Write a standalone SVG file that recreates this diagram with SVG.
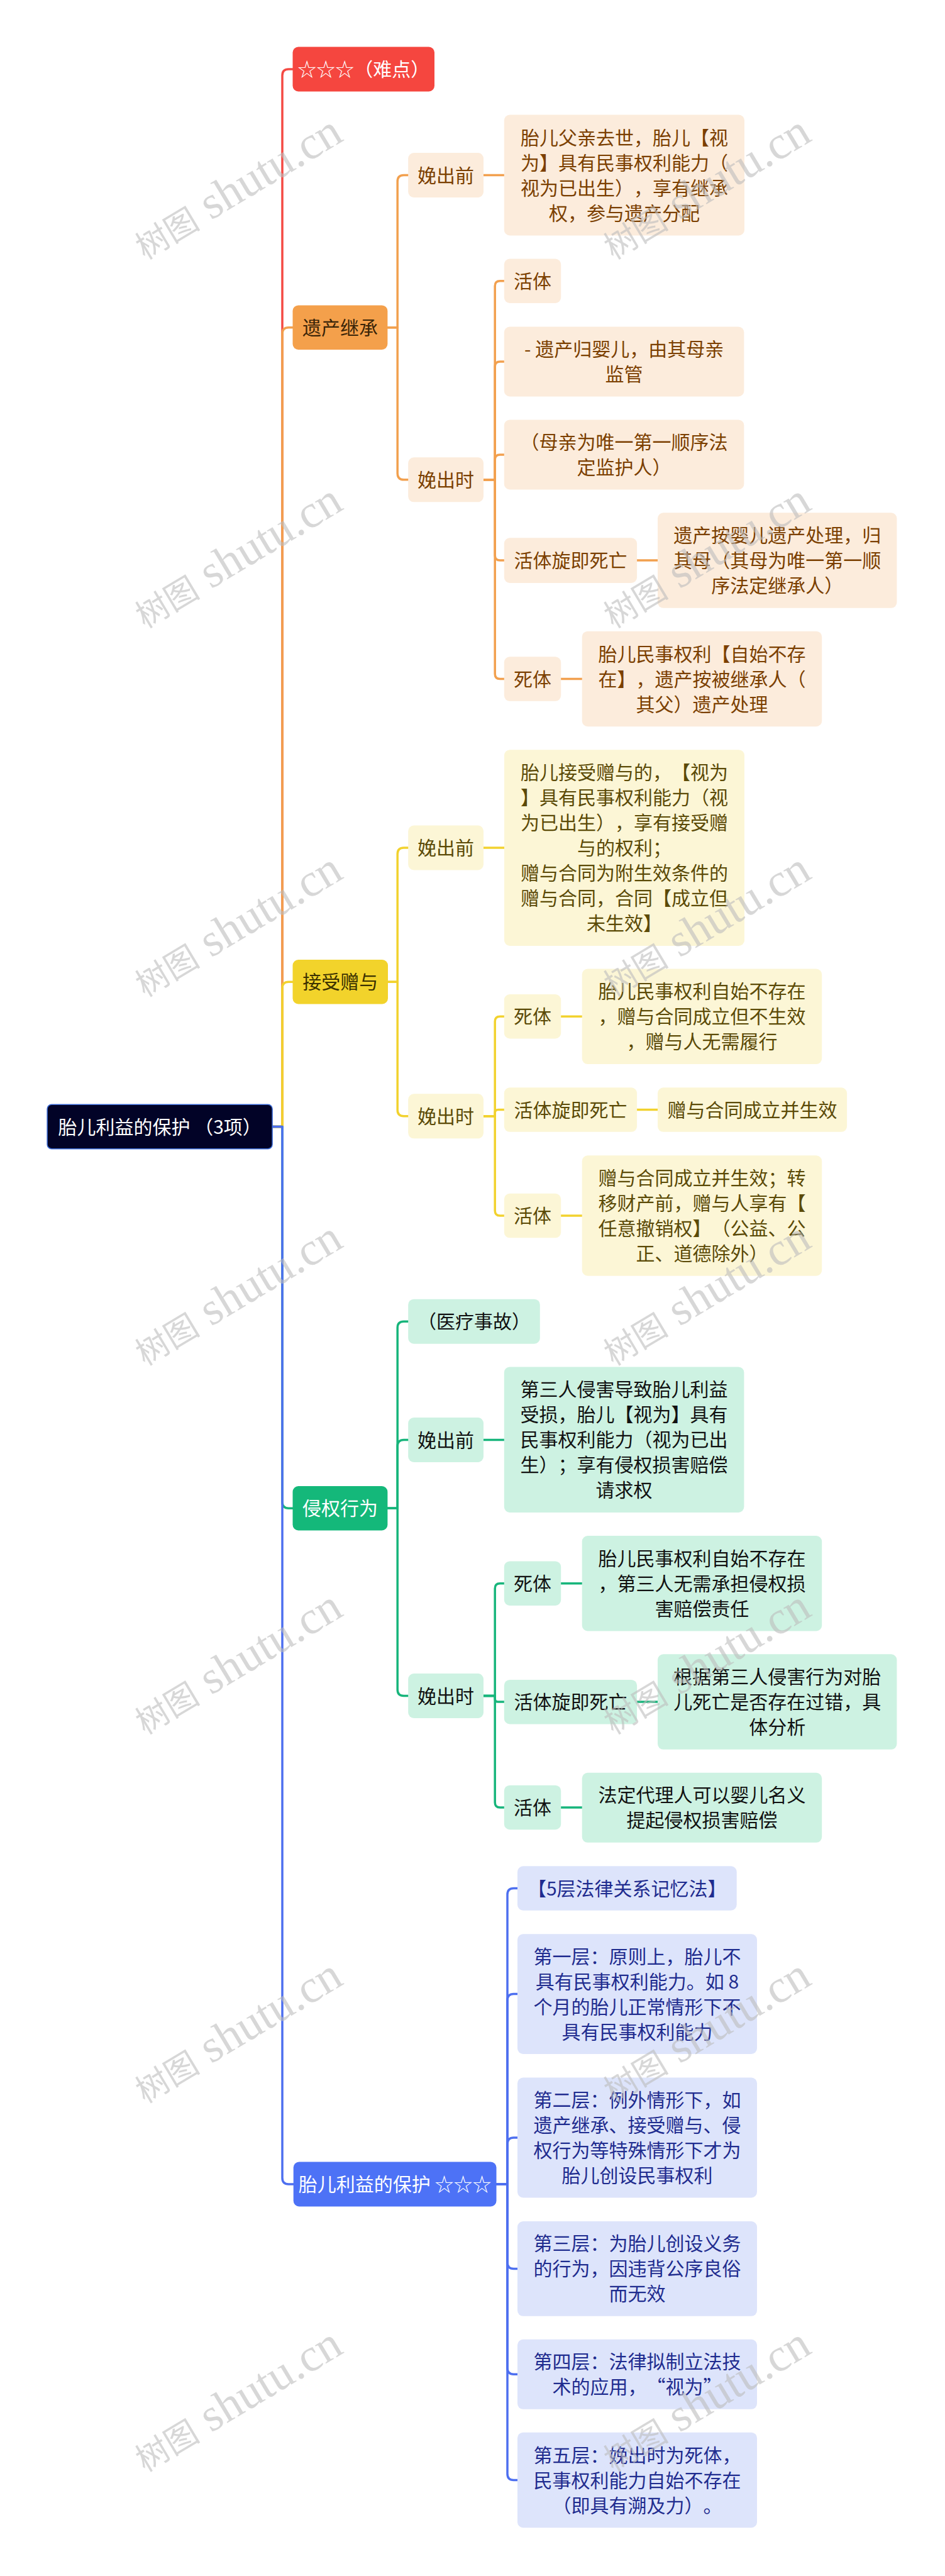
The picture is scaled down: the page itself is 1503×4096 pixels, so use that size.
<svg xmlns="http://www.w3.org/2000/svg" width="1503" height="4096" viewBox="0 0 1503 4096">
<style>
.t{font-family:"Noto Sans CJK SC","Noto Sans",sans-serif;font-size:30px;text-anchor:middle;text-spacing-trim:space-all}
.c{fill:none;stroke-width:3.5;stroke-linecap:round;stroke-linejoin:round}
.cr{stroke:#F44A43}.co{stroke:#F2A04E}.cy{stroke:#F2D22E}.cg{stroke:#17B57B}.cb{stroke:#4D6FF0}
.so{fill:#FCECDC}.to{fill:#7B3F00}
.sy{fill:#FCF6D6}.ty{fill:#5B4A07}
.sg{fill:#CDF2E2}.tg{fill:#111111}
.sb{fill:#DDE4FB}.tb{fill:#1F2C8F}
.wm{font-family:"Liberation Serif","Noto Sans CJK SC",serif;font-size:74px;fill:#bdbdbd;fill-opacity:0.6}
.wmc{font-family:"Noto Sans CJK SC",sans-serif;font-size:52px}
</style>
<rect width="1503" height="4096" fill="#ffffff"/>
<g id="connectors">
<path class="c cr" d="M433.1 1791.5H449V120Q449 110 459 110H465.5"/>
<path class="c co" d="M433.1 1791.5H449V530.7Q449 520.7 459 520.7H465.5"/>
<path class="c cy" d="M433.1 1791.5H449V1571.3Q449 1561.3 459 1561.3H465.5"/>
<path class="c cg" d="M433.1 1791.5H449V2388.3Q449 2398.3 459 2398.3H465.5"/>
<path class="c cb" d="M433.1 1791.5H449V3463Q449 3473 459 3473H466.7"/>
<path class="c co" d="M616.4 520.7H632.2V288.5Q632.2 278.5 642.2 278.5H649.2"/>
<path class="c co" d="M616.4 520.7H632.2V752.8Q632.2 762.8 642.2 762.8H649.2"/>
<path class="c co" d="M769 278.5H801.8"/>
<path class="c co" d="M769 762.8H787.2V454.7Q787.2 446.7 795.2 446.7H801.8"/>
<path class="c co" d="M769 762.8H787.2V583Q787.2 575 795.2 575H801.8"/>
<path class="c co" d="M769 762.8H787.2V730.9Q787.2 722.9 795.2 722.9H801.8"/>
<path class="c co" d="M769 762.8H787.2V883Q787.2 891 795.2 891H801.8"/>
<path class="c co" d="M769 762.8H787.2V1071.5Q787.2 1079.5 795.2 1079.5H801.8"/>
<path class="c co" d="M1013.1 891H1046"/>
<path class="c co" d="M892.2 1079.5H925.7"/>
<path class="c cy" d="M617 1561.3H632.2V1358Q632.2 1348 642.2 1348H649.2"/>
<path class="c cy" d="M617 1561.3H632.2V1764.8Q632.2 1774.8 642.2 1774.8H649.2"/>
<path class="c cy" d="M769 1348H802"/>
<path class="c cy" d="M769 1774.8H787.2V1624.3Q787.2 1616.3 795.2 1616.3H801.8"/>
<path class="c cy" d="M769 1774.8H787.2V1769.7Q787.2 1764.6 792.3 1764.6H801.8"/>
<path class="c cy" d="M769 1774.8H787.2V1925Q787.2 1933 795.2 1933H801.8"/>
<path class="c cy" d="M892.2 1616.3H925.7"/>
<path class="c cy" d="M1013.1 1764.6H1046"/>
<path class="c cy" d="M892.2 1933H925.7"/>
<path class="c cg" d="M616.4 2398.3H632.2V2111.2Q632.2 2101.2 642.2 2101.2H649.2"/>
<path class="c cg" d="M616.4 2398.3H632.2V2299.5Q632.2 2289.5 642.2 2289.5H649.2"/>
<path class="c cg" d="M616.4 2398.3H632.2V2686.5Q632.2 2696.5 642.2 2696.5H649.2"/>
<path class="c cg" d="M769 2289.5H801.8"/>
<path class="c cg" d="M769 2696.5H787.2V2525.7Q787.2 2517.7 795.2 2517.7H801.8"/>
<path class="c cg" d="M769 2696.5H787.2V2701.3Q787.2 2706.1 792 2706.1H801.8"/>
<path class="c cg" d="M769 2696.5H787.2V2866Q787.2 2874 795.2 2874H801.8"/>
<path class="c cg" d="M892.2 2517.7H925.7"/>
<path class="c cg" d="M1013.1 2706.1H1046"/>
<path class="c cg" d="M892.2 2874H925.7"/>
<path class="c cb" d="M789.5 3473H807V3012.5Q807 3002.5 817 3002.5H823"/>
<path class="c cb" d="M789.5 3473H807V3180.6Q807 3170.6 817 3170.6H823"/>
<path class="c cb" d="M789.5 3473H807V3409Q807 3399 817 3399H823"/>
<path class="c cb" d="M789.5 3473H807V3597.4Q807 3607.4 817 3607.4H823"/>
<path class="c cb" d="M789.5 3473H807V3765.3Q807 3775.3 817 3775.3H823"/>
<path class="c cb" d="M789.5 3473H807V3933.5Q807 3943.5 817 3943.5H823"/>
</g>
<g id="root"><rect x="75.1" y="1756.3" width="358" height="70.4" rx="7" fill="#020327" stroke="#3C6BD6" stroke-width="1.5"/><text class="t" x="254.1" y="1802.5" fill="#ffffff">胎儿利益的保护 （3项）</text></g>
<g id="n-nandian"><rect x="465.5" y="74.5" width="225.5" height="71" rx="9" fill="#F5463F"/><text class="t" x="578.3" y="121" fill="#ffffff">☆☆☆（难点）</text></g>
<g id="n-yichan"><rect x="465.5" y="485.4" width="150.9" height="70.5" rx="9" fill="#F4A04B"/><text class="t" x="541" y="531.7" fill="#3A2408">遗产继承</text></g>
<g id="n-yc-qian"><rect class="so" x="649.2" y="243" width="119.8" height="71" rx="9"/><text class="t to" x="709.1" y="289.5">娩出前</text></g>
<g id="n-yc-qian-1"><rect class="so" x="801.8" y="182.6" width="382.2" height="191.9" rx="9"/><text class="t to"><tspan x="992.9" y="229.5">胎儿父亲去世，胎儿【视</tspan><tspan x="992.9" y="269.5">为】具有民事权利能力（</tspan><tspan x="992.9" y="309.5">视为已出生），享有继承</tspan><tspan x="992.9" y="349.5">权，参与遗产分配</tspan></text></g>
<g id="n-yc-shi"><rect class="so" x="649.2" y="727.3" width="119.8" height="71" rx="9"/><text class="t to" x="709.1" y="773.8">娩出时</text></g>
<g id="n-yc-huoti"><rect class="so" x="801.8" y="411.5" width="90.4" height="70.5" rx="9"/><text class="t to" x="847" y="457.7">活体</text></g>
<g id="n-yc-gui"><rect class="so" x="801.8" y="519.5" width="381.6" height="111" rx="9"/><text class="t to"><tspan x="992.6" y="566">- 遗产归婴儿，由其母亲</tspan><tspan x="992.6" y="606">监管</tspan></text></g>
<g id="n-yc-muqin"><rect class="so" x="801.8" y="667.4" width="381.6" height="111" rx="9"/><text class="t to"><tspan x="992.6" y="713.9">（母亲为唯一第一顺序法</tspan><tspan x="992.6" y="753.9">定监护人）</tspan></text></g>
<g id="n-yc-xuanji"><rect class="so" x="801.8" y="855.3" width="211.3" height="71.6" rx="9"/><text class="t to" x="907.4" y="902">活体旋即死亡</text></g>
<g id="n-yc-xuanji-1"><rect class="so" x="1046" y="815.3" width="380.4" height="151.5" rx="9"/><text class="t to"><tspan x="1236.2" y="862">遗产按婴儿遗产处理，归</tspan><tspan x="1236.2" y="902">其母（其母为唯一第一顺</tspan><tspan x="1236.2" y="942">序法定继承人）</tspan></text></g>
<g id="n-yc-siti"><rect class="so" x="801.8" y="1044.3" width="90.4" height="70.5" rx="9"/><text class="t to" x="847" y="1090.5">死体</text></g>
<g id="n-yc-siti-1"><rect class="so" x="925.7" y="1003.7" width="381.5" height="151.5" rx="9"/><text class="t to"><tspan x="1116.4" y="1050.5">胎儿民事权利【自始不存</tspan><tspan x="1116.4" y="1090.5">在】，遗产按被继承人（</tspan><tspan x="1116.4" y="1130.5">其父）遗产处理</tspan></text></g>
<g id="n-zengyu"><rect x="465.5" y="1526" width="151.5" height="70.5" rx="9" fill="#F2D32B"/><text class="t" x="541.2" y="1572.3" fill="#3A3000">接受赠与</text></g>
<g id="n-zy-qian"><rect class="sy" x="649.2" y="1312.5" width="119.8" height="71" rx="9"/><text class="t ty" x="709.1" y="1359">娩出前</text></g>
<g id="n-zy-qian-1"><rect class="sy" x="802" y="1192.2" width="382" height="311.7" rx="9"/><text class="t ty"><tspan x="993" y="1239">胎儿接受赠与的，【视为</tspan><tspan x="993" y="1279">】具有民事权利能力（视</tspan><tspan x="993" y="1319">为已出生），享有接受赠</tspan><tspan x="993" y="1359">与的权利；</tspan><tspan x="993" y="1399">赠与合同为附生效条件的</tspan><tspan x="993" y="1439">赠与合同，合同【成立但</tspan><tspan x="993" y="1479">未生效】</tspan></text></g>
<g id="n-zy-shi"><rect class="sy" x="649.2" y="1739.3" width="119.8" height="71" rx="9"/><text class="t ty" x="709.1" y="1785.8">娩出时</text></g>
<g id="n-zy-siti"><rect class="sy" x="801.8" y="1581" width="90.4" height="70.5" rx="9"/><text class="t ty" x="847" y="1627.3">死体</text></g>
<g id="n-zy-siti-1"><rect class="sy" x="925.7" y="1540.6" width="381.5" height="151.5" rx="9"/><text class="t ty"><tspan x="1116.4" y="1587.3">胎儿民事权利自始不存在</tspan><tspan x="1116.4" y="1627.3">，赠与合同成立但不生效</tspan><tspan x="1116.4" y="1667.3">，赠与人无需履行</tspan></text></g>
<g id="n-zy-xuanji"><rect class="sy" x="801.8" y="1729.3" width="211.3" height="70.5" rx="9"/><text class="t ty" x="907.4" y="1775.6">活体旋即死亡</text></g>
<g id="n-zy-xuanji-1"><rect class="sy" x="1046" y="1729.3" width="301.1" height="70.5" rx="9"/><text class="t ty" x="1196.5" y="1775.6">赠与合同成立并生效</text></g>
<g id="n-zy-huoti"><rect class="sy" x="801.8" y="1897.8" width="90.4" height="70.5" rx="9"/><text class="t ty" x="847" y="1944">活体</text></g>
<g id="n-zy-huoti-1"><rect class="sy" x="925.7" y="1837.3" width="381.5" height="191.4" rx="9"/><text class="t ty"><tspan x="1116.4" y="1884">赠与合同成立并生效；转</tspan><tspan x="1116.4" y="1924">移财产前，赠与人享有【</tspan><tspan x="1116.4" y="1964">任意撤销权】（公益、公</tspan><tspan x="1116.4" y="2004">正、道德除外）</tspan></text></g>
<g id="n-qinquan"><rect x="465.5" y="2363" width="150.9" height="70.5" rx="9" fill="#14B87A"/><text class="t" x="541" y="2409.3" fill="#ffffff">侵权行为</text></g>
<g id="n-qq-yiliao"><rect class="sg" x="649.2" y="2065.7" width="209.6" height="71" rx="9"/><text class="t tg" x="754" y="2112.2">（医疗事故）</text></g>
<g id="n-qq-qian"><rect class="sg" x="649.2" y="2254" width="119.8" height="71" rx="9"/><text class="t tg" x="709.1" y="2300.5">娩出前</text></g>
<g id="n-qq-qian-1"><rect class="sg" x="801.8" y="2173.4" width="381.6" height="231.6" rx="9"/><text class="t tg"><tspan x="992.6" y="2220.2">第三人侵害导致胎儿利益</tspan><tspan x="992.6" y="2260.2">受损，胎儿【视为】具有</tspan><tspan x="992.6" y="2300.2">民事权利能力（视为已出</tspan><tspan x="992.6" y="2340.2">生）；享有侵权损害赔偿</tspan><tspan x="992.6" y="2380.2">请求权</tspan></text></g>
<g id="n-qq-shi"><rect class="sg" x="649.2" y="2661" width="119.8" height="71" rx="9"/><text class="t tg" x="709.1" y="2707.5">娩出时</text></g>
<g id="n-qq-siti"><rect class="sg" x="801.8" y="2482.4" width="90.4" height="70.5" rx="9"/><text class="t tg" x="847" y="2528.7">死体</text></g>
<g id="n-qq-siti-1"><rect class="sg" x="925.7" y="2442" width="381.5" height="151.5" rx="9"/><text class="t tg"><tspan x="1116.4" y="2488.7">胎儿民事权利自始不存在</tspan><tspan x="1116.4" y="2528.7">，第三人无需承担侵权损</tspan><tspan x="1116.4" y="2568.7">害赔偿责任</tspan></text></g>
<g id="n-qq-xuanji"><rect class="sg" x="801.8" y="2670.9" width="211.3" height="70.5" rx="9"/><text class="t tg" x="907.4" y="2717.1">活体旋即死亡</text></g>
<g id="n-qq-xuanji-1"><rect class="sg" x="1046" y="2630.3" width="380.4" height="151.5" rx="9"/><text class="t tg"><tspan x="1236.2" y="2677.1">根据第三人侵害行为对胎</tspan><tspan x="1236.2" y="2717.1">儿死亡是否存在过错，具</tspan><tspan x="1236.2" y="2757.1">体分析</tspan></text></g>
<g id="n-qq-huoti"><rect class="sg" x="801.8" y="2838.7" width="90.4" height="70.5" rx="9"/><text class="t tg" x="847" y="2885">活体</text></g>
<g id="n-qq-huoti-1"><rect class="sg" x="925.7" y="2818.8" width="381.5" height="111" rx="9"/><text class="t tg"><tspan x="1116.4" y="2865.3">法定代理人可以婴儿名义</tspan><tspan x="1116.4" y="2905.3">提起侵权损害赔偿</tspan></text></g>
<g id="n-baohu"><rect x="466.7" y="3437.5" width="322.8" height="71" rx="9" fill="#4D72F6"/><text class="t" x="628.1" y="3484" fill="#ffffff">胎儿利益的保护 ☆☆☆</text></g>
<g id="n-bh-0"><rect class="sb" x="823" y="2967.3" width="348.7" height="70.4" rx="9"/><text class="t tb" x="997.3" y="3013.5">【5层法律关系记忆法】</text></g>
<g id="n-bh-1"><rect class="sb" x="823" y="3075.3" width="381" height="190.7" rx="9"/><text class="t tb"><tspan x="1013.5" y="3121.6">第一层：原则上，胎儿不</tspan><tspan x="1013.5" y="3161.6">具有民事权利能力。如 8</tspan><tspan x="1013.5" y="3201.6">个月的胎儿正常情形下不</tspan><tspan x="1013.5" y="3241.6">具有民事权利能力</tspan></text></g>
<g id="n-bh-2"><rect class="sb" x="823" y="3303.6" width="381" height="190.8" rx="9"/><text class="t tb"><tspan x="1013.5" y="3350">第二层：例外情形下，如</tspan><tspan x="1013.5" y="3390">遗产继承、接受赠与、侵</tspan><tspan x="1013.5" y="3430">权行为等特殊情形下才为</tspan><tspan x="1013.5" y="3470">胎儿创设民事权利</tspan></text></g>
<g id="n-bh-3"><rect class="sb" x="823" y="3532" width="381" height="150.8" rx="9"/><text class="t tb"><tspan x="1013.5" y="3578.4">第三层：为胎儿创设义务</tspan><tspan x="1013.5" y="3618.4">的行为，因违背公序良俗</tspan><tspan x="1013.5" y="3658.4">而无效</tspan></text></g>
<g id="n-bh-4"><rect class="sb" x="823" y="3719.8" width="381" height="111" rx="9"/><text class="t tb"><tspan x="1013.5" y="3766.3">第四层：法律拟制立法技</tspan><tspan x="1013.5" y="3806.3">术的应用，“视为”</tspan></text></g>
<g id="n-bh-5"><rect class="sb" x="823" y="3867.7" width="381" height="151.5" rx="9"/><text class="t tb"><tspan x="1013.5" y="3914.5">第五层：娩出时为死体，</tspan><tspan x="1013.5" y="3954.5">民事权利能力自始不存在</tspan><tspan x="1013.5" y="3994.5">（即具有溯及力）。</tspan></text></g>
<g id="watermark">
<text class="wm" x="230.6" y="413.7" transform="rotate(-31 230.6 413.7)"><tspan class="wmc">树图</tspan> shutu.cn</text>
<text class="wm" x="975.6" y="413.7" transform="rotate(-31 975.6 413.7)"><tspan class="wmc">树图</tspan> shutu.cn</text>
<text class="wm" x="230.6" y="1000" transform="rotate(-31 230.6 1000)"><tspan class="wmc">树图</tspan> shutu.cn</text>
<text class="wm" x="975.6" y="1000" transform="rotate(-31 975.6 1000)"><tspan class="wmc">树图</tspan> shutu.cn</text>
<text class="wm" x="230.6" y="1586.3" transform="rotate(-31 230.6 1586.3)"><tspan class="wmc">树图</tspan> shutu.cn</text>
<text class="wm" x="975.6" y="1586.3" transform="rotate(-31 975.6 1586.3)"><tspan class="wmc">树图</tspan> shutu.cn</text>
<text class="wm" x="230.6" y="2172.6" transform="rotate(-31 230.6 2172.6)"><tspan class="wmc">树图</tspan> shutu.cn</text>
<text class="wm" x="975.6" y="2172.6" transform="rotate(-31 975.6 2172.6)"><tspan class="wmc">树图</tspan> shutu.cn</text>
<text class="wm" x="230.6" y="2758.9" transform="rotate(-31 230.6 2758.9)"><tspan class="wmc">树图</tspan> shutu.cn</text>
<text class="wm" x="975.6" y="2758.9" transform="rotate(-31 975.6 2758.9)"><tspan class="wmc">树图</tspan> shutu.cn</text>
<text class="wm" x="230.6" y="3345.2" transform="rotate(-31 230.6 3345.2)"><tspan class="wmc">树图</tspan> shutu.cn</text>
<text class="wm" x="975.6" y="3345.2" transform="rotate(-31 975.6 3345.2)"><tspan class="wmc">树图</tspan> shutu.cn</text>
<text class="wm" x="230.6" y="3931.5" transform="rotate(-31 230.6 3931.5)"><tspan class="wmc">树图</tspan> shutu.cn</text>
<text class="wm" x="975.6" y="3931.5" transform="rotate(-31 975.6 3931.5)"><tspan class="wmc">树图</tspan> shutu.cn</text>
</g>
</svg>
